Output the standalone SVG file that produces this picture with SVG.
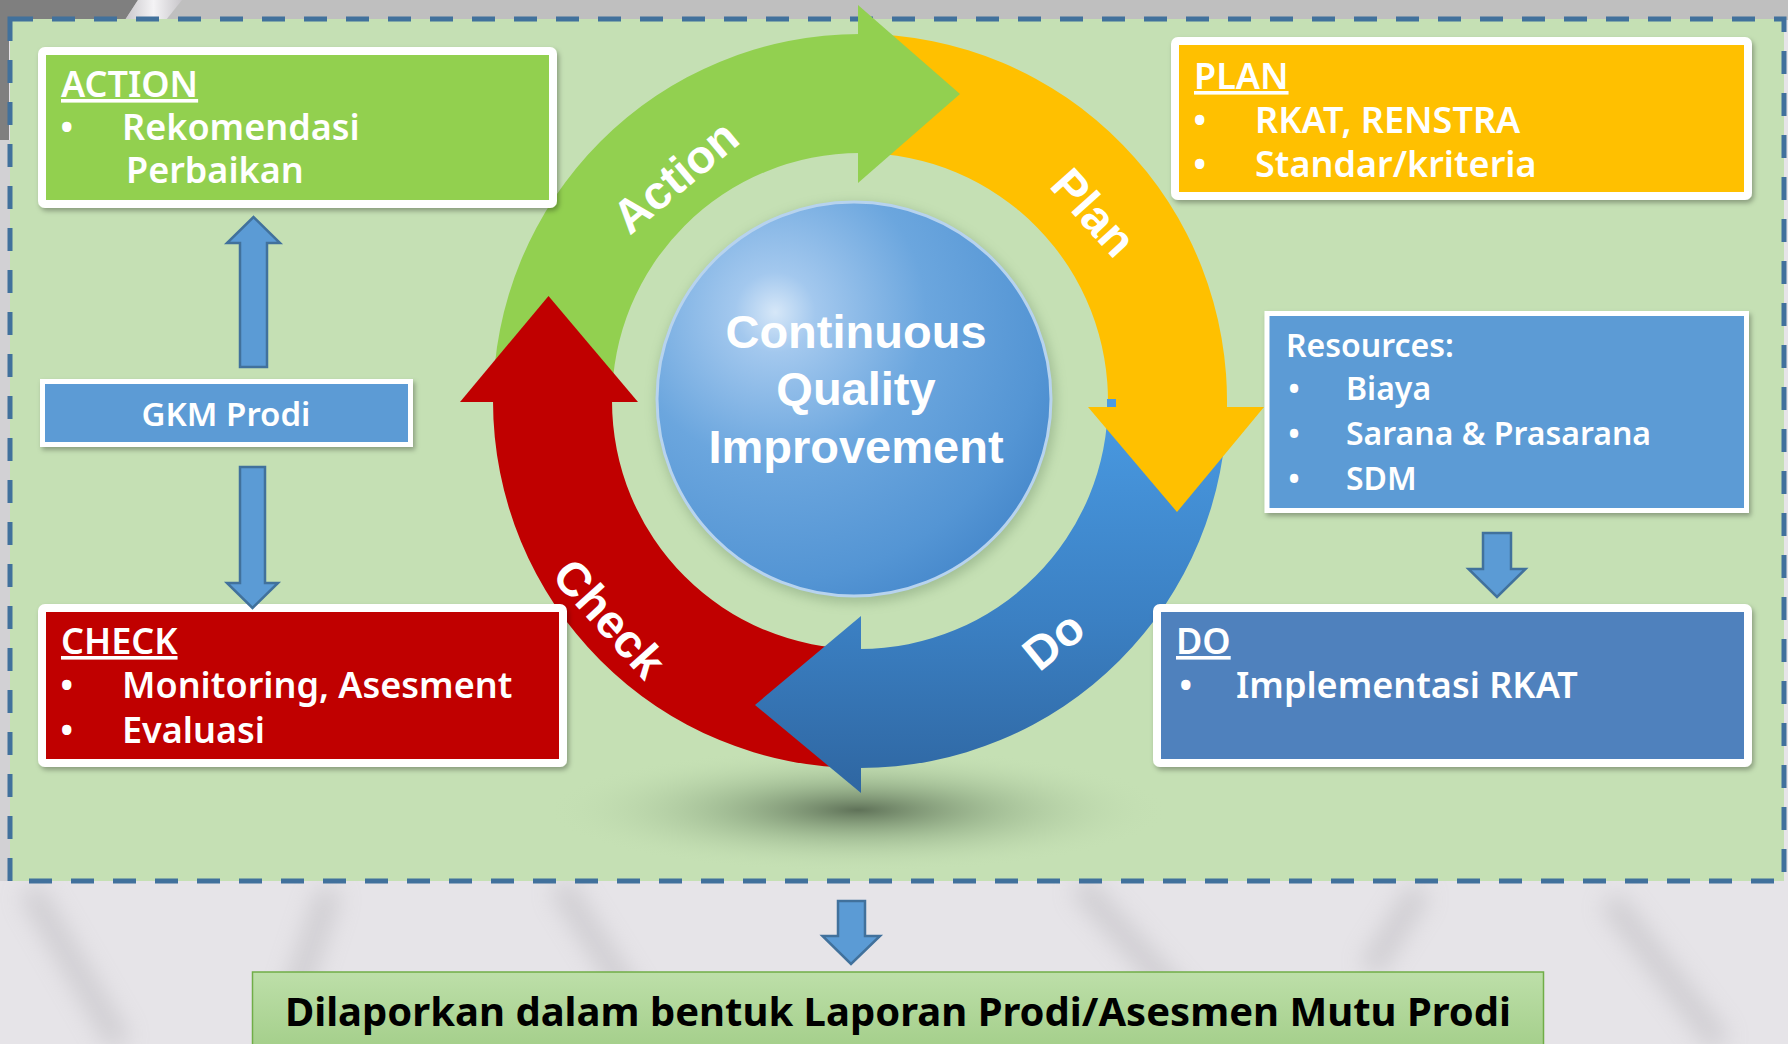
<svg xmlns="http://www.w3.org/2000/svg" width="1788" height="1044" viewBox="0 0 1788 1044">
<defs>
<style>
.box{stroke:#fff;stroke-width:8;filter:url(#sh)}
.thin{stroke:#fff;stroke-width:5;filter:url(#sh)}
.t{font-family:'Noto Sans','Open Sans',sans-serif;font-weight:600;fill:#fff}
.h{font-size:36px;text-decoration:underline}
.b{font-size:36px}
.r{font-size:32px}
.lbl{font-family:'Liberation Sans',Arial,sans-serif;font-weight:700;fill:#fff;font-size:47px;text-anchor:middle}
.blk{fill:#5b9bd5;stroke:#41719c;stroke-width:2.5;stroke-linejoin:miter}
</style>
<filter id="sh" x="-5%" y="-10%" width="115%" height="130%">
<feDropShadow dx="2" dy="3" stdDeviation="2.5" flood-color="#000" flood-opacity="0.3"/>
</filter>
<filter id="blur6"><feGaussianBlur stdDeviation="6"/></filter>
<filter id="blur12" x="-50%" y="-50%" width="200%" height="200%"><feGaussianBlur stdDeviation="12"/></filter>
<radialGradient id="shadowG" cx="0.5" cy="0.5" r="0.5">
<stop offset="0" stop-color="#4d5e48" stop-opacity="0.85"/>
<stop offset="0.45" stop-color="#7f9a76" stop-opacity="0.45"/>
<stop offset="1" stop-color="#c5e0b4" stop-opacity="0"/>
</radialGradient>
<radialGradient id="sphG" cx="0.3" cy="0.28" r="0.85">
<stop offset="0" stop-color="#d6e7f8"/>
<stop offset="0.12" stop-color="#a3c8ee"/>
<stop offset="0.45" stop-color="#6ba6de"/>
<stop offset="0.8" stop-color="#5495d4"/>
<stop offset="1" stop-color="#4385c9"/>
</radialGradient>
<linearGradient id="blueG" gradientUnits="userSpaceOnUse" x1="0" y1="400" x2="0" y2="800">
<stop offset="0" stop-color="#4a9be3"/>
<stop offset="0.55" stop-color="#3b80c3"/>
<stop offset="1" stop-color="#2e65a0"/>
</linearGradient>
<linearGradient id="botG" x1="0" y1="0" x2="0" y2="1">
<stop offset="0" stop-color="#bddfa9"/>
<stop offset="1" stop-color="#a3ce89"/>
</linearGradient>
<linearGradient id="streak" x1="0" y1="0" x2="1" y2="0">
<stop offset="0" stop-color="#c9c7cb"/>
<stop offset="0.5" stop-color="#f4f3f5"/>
<stop offset="1" stop-color="#c8c6ca"/>
</linearGradient>
</defs>

<!-- background -->
<rect x="0" y="0" width="1788" height="1044" fill="#e6e4e8"/>
<rect x="0" y="0" width="1788" height="20" fill="#bfbfbf"/>
<polygon points="0,0 138,0 125,20 9,20 9,140 0,150" fill="#7f7f7f"/>
<polygon points="138,0 182,0 166,20 125,20" fill="url(#streak)"/>
<rect x="0" y="140" width="10" height="741" fill="#d2d1d4"/>
<g filter="url(#blur12)" opacity="0.35" stroke="#9e9ca1" stroke-width="22" fill="none">
<path d="M30 890 L120 1044"/>
<path d="M330 890 L290 1010"/>
<path d="M560 885 L660 1044"/>
<path d="M1080 885 L1190 1010"/>
<path d="M1420 890 L1370 970"/>
<path d="M1610 900 L1720 1044"/>
</g>

<!-- green dashed panel -->
<rect x="10" y="19" width="1774" height="862" fill="#c5e0b4" stroke="#41719c" stroke-width="5" stroke-dasharray="23 19"/>

<!-- shadow under cycle -->
<ellipse cx="858" cy="810" rx="310" ry="62" fill="url(#shadowG)"/>

<!-- cycle -->
<g id="cycle">
<path d="M1227 401 A367 367 0 0 1 860 768 L860 649 A248 248 0 0 0 1108 401 Z" fill="url(#blueG)"/>
<path d="M860 768 A367 367 0 0 1 493 401 L612 401 A248 248 0 0 0 860 649 Z" fill="#c00000"/>
<path d="M493 401 A367 367 0 0 1 860 34 L860 153 A248 248 0 0 0 612 401 Z" fill="#92d050"/>
<path d="M860 34 A367 367 0 0 1 1226.9 410.6 L1107.9 407.5 A248 248 0 0 0 860 153 Z" fill="#ffc000"/>
<rect x="1107" y="399" width="9" height="8" fill="#4a9be3"/>
<path d="M858 5 L960 94 L858 183 Z" fill="#92d050"/>
<path d="M1264 407 L1177 512 L1088 407 Z" fill="#ffc000"/>
<path d="M861 793 L755 705 L861 616 Z" fill="url(#blueG)"/>
<path d="M460 402 L548.5 296 L638 402 Z" fill="#c00000"/>
<text class="lbl" transform="translate(675 176) rotate(-40)" dy="0.36em">Action</text>
<text class="lbl" transform="translate(1094 212) rotate(48)" dy="0.36em">Plan</text>
<text class="lbl" transform="translate(1053 640) rotate(-39)" dy="0.36em">Do</text>
<text class="lbl" transform="translate(610 618) rotate(48)" dy="0.36em">Check</text>
</g>

<!-- center sphere -->
<g id="center">
<circle cx="856" cy="403" r="200" fill="#5f7f5a" opacity="0.35" filter="url(#blur6)"/>
<circle cx="854" cy="399" r="197" fill="url(#sphG)" stroke="#b7d3ee" stroke-width="3"/>
<text class="lbl" x="856" y="348">Continuous</text>
<text class="lbl" x="856" y="405">Quality</text>
<text class="lbl" x="856" y="463">Improvement</text>
</g>

<!-- boxes -->
<g id="action">
<rect class="box" x="42" y="51" width="511" height="153" rx="3" fill="#92d050"/>
<text class="t h" x="61" y="97">ACTION</text>
<text class="t b" x="60" y="140">•</text>
<text class="t b" x="122" y="140">Rekomendasi</text>
<text class="t b" x="126" y="183">Perbaikan</text>
</g>

<g id="plan">
<rect class="box" x="1175" y="41" width="573" height="155" rx="3" fill="#ffc000"/>
<text class="t h" x="1194" y="89">PLAN</text>
<text class="t b" x="1193" y="133">•</text>
<text class="t b" x="1255" y="133">RKAT, RENSTRA</text>
<text class="t b" x="1193" y="177">•</text>
<text class="t b" x="1255" y="177">Standar/kriteria</text>
</g>

<g id="resources">
<rect class="thin" x="1267" y="313.5" width="479.5" height="197" fill="#5b9bd5"/>
<text class="t r" x="1286" y="357">Resources:</text>
<text class="t r" x="1288" y="400">•</text>
<text class="t r" x="1346" y="400">Biaya</text>
<text class="t r" x="1288" y="445">•</text>
<text class="t r" x="1346" y="445">Sarana &amp; Prasarana</text>
<text class="t r" x="1288" y="490">•</text>
<text class="t r" x="1346" y="490">SDM</text>
</g>

<g id="do">
<rect class="box" x="1157" y="608" width="591" height="155" rx="3" fill="#4f81bd"/>
<text class="t h" x="1176" y="654">DO</text>
<text class="t b" x="1179" y="698">•</text>
<text class="t b" x="1236" y="698">Implementasi RKAT</text>
</g>

<g id="check">
<rect class="box" x="42" y="608" width="521" height="155" rx="3" fill="#c00000"/>
<text class="t h" x="61" y="654">CHECK</text>
<text class="t b" x="60" y="698">•</text>
<text class="t b" x="122" y="698">Monitoring, Asesment</text>
<text class="t b" x="60" y="743">•</text>
<text class="t b" x="122" y="743">Evaluasi</text>
</g>

<g id="gkm">
<rect class="thin" x="42.5" y="381.5" width="368" height="63" stroke-width="4" fill="#5b9bd5"/>
<text class="t" x="226" y="426" font-size="33" text-anchor="middle">GKM Prodi</text>
</g>

<g id="report">
<rect x="252.5" y="972" width="1291" height="80" fill="url(#botG)" stroke="#70ad47" stroke-width="1.5"/>
<text x="898" y="1026" font-family="'Noto Sans','Open Sans',sans-serif" font-weight="700" font-size="40" fill="#000" text-anchor="middle">Dilaporkan dalam bentuk Laporan Prodi/Asesmen Mutu Prodi</text>
</g>

<!-- connectors -->
<g id="connectors">
<path class="blk" d="M240 367 L240 243 L227 243 L253.5 217 L280 243 L267 243 L267 367 Z"/>
<path class="blk" d="M240 467 L265 467 L265 583 L278 583 L252.5 608 L227 583 L240 583 Z"/>
<path class="blk" d="M1483 533 L1511 533 L1511 569 L1525.5 569 L1497 597 L1468.5 569 L1483 569 Z"/>
<path class="blk" d="M838 901 L865 901 L865 936 L880 936 L851 964 L822.5 936 L838 936 Z"/>
</g>
</svg>
